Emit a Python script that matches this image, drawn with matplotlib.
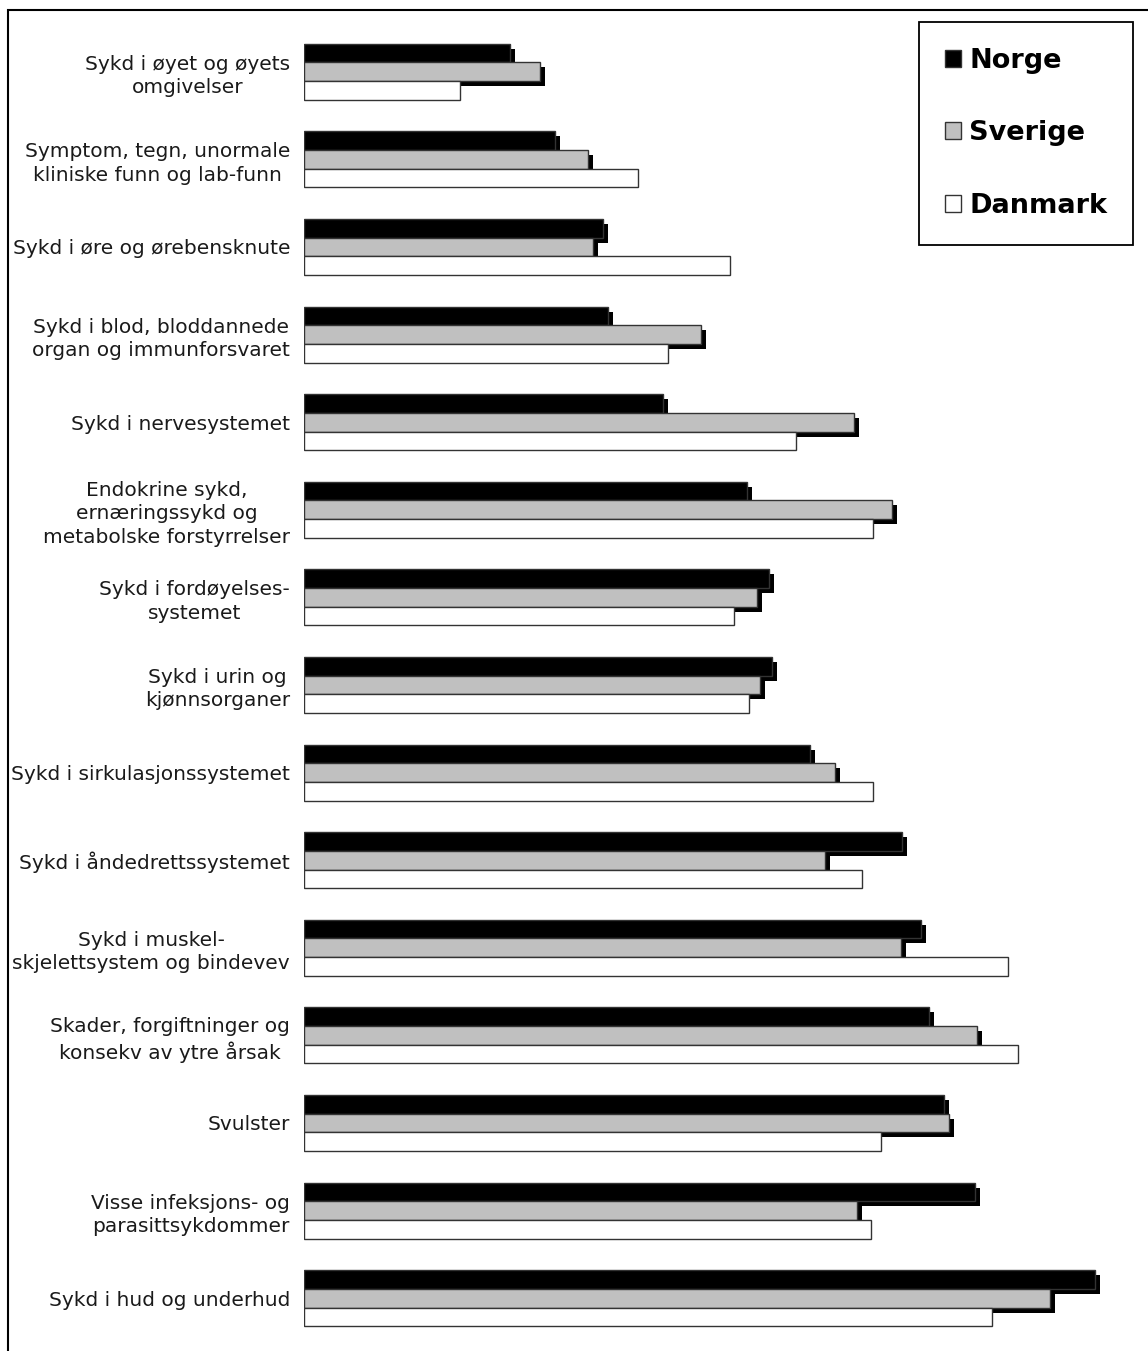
import matplotlib
matplotlib.use("Agg")
import matplotlib.pyplot as plt
import matplotlib.patheffects as pe
from matplotlib.patches import Patch, Rectangle
import numpy as np

categories = [
    "Sykd i øyet og øyets\nomgivelser",
    "Symptom, tegn, unormale\nkliniske funn og lab-funn",
    "Sykd i øre og ørebensknute",
    "Sykd i blod, bloddannede\norgan og immunforsvaret",
    "Sykd i nervesystemet",
    "Endokrine sykd,\nernæringssykd og\nmetabolske forstyrrelser",
    "Sykd i fordøyelses-\nsystemet",
    "Sykd i urin og\nkjønnsorganer",
    "Sykd i sirkulasjonssystemet",
    "Sykd i åndedrettssystemet",
    "Sykd i muskel-\nskjelettsystem og bindevev",
    "Skader, forgiftninger og\nkonsekv av ytre årsak",
    "Svulster",
    "Visse infeksjons- og\nparasittsykdommer",
    "Sykd i hud og underhud",
]

norge = [25.8, 31.4, 37.4, 38.0, 44.9, 55.4, 58.1, 58.5, 63.3, 74.8, 77.1, 78.1, 80.0, 83.9, 98.9]
sverige = [29.5, 35.5, 36.1, 49.6, 68.8, 73.5, 56.6, 57.0, 66.4, 65.1, 74.6, 84.1, 80.6, 69.1, 93.3]
danmark = [19.5, 41.8, 53.3, 45.5, 61.5, 71.1, 53.8, 55.6, 71.1, 69.8, 88.0, 89.3, 72.1, 70.9, 86.0]

series_names = ["Norge", "Sverige", "Danmark"]
series_colors = ["#000000", "#c0c0c0", "#ffffff"]

W, H = 1148, 1351
fig = plt.figure(figsize=(W / 100, H / 100), dpi=100)
fig.patch.set_facecolor("white")

ax = fig.add_axes([304 / W, 1 - 1342 / H, 1 - 304 / W, (1342 - 28) / H])

y = np.arange(len(categories))
bh = 0.213
shadow = [pe.SimplePatchShadow(offset=(3.6, -3.6), shadow_rgbFace="black", alpha=1.0), pe.Normal()]

for i, (vals, color) in enumerate(zip([norge, sverige, danmark], series_colors)):
    bars = ax.barh(y + (i - 1) * bh, vals, height=bh, color=color,
                   edgecolor="#333333", linewidth=1.0, zorder=2 + i)
    if i < 2:
        for b in bars:
            b.set_path_effects(shadow)

ax.set_ylim(len(categories) - 0.5, -0.5)
ax.set_xlim(0, (W - 304) / 8)
ax.set_yticks(y)
ax.set_yticklabels(categories, fontsize=14.5, family="DejaVu Sans", color="#1a1a1a",
                   linespacing=1.28)
for lbl in ax.get_yticklabels():
    lbl.set_multialignment("center")
ax.tick_params(axis="y", length=0, pad=10)
ax.set_xticks([])
for s in ax.spines.values():
    s.set_visible(False)
ax.patch.set_alpha(0)

handles = [Patch(facecolor=c, edgecolor="#333333", linewidth=1.0) for c in series_colors]
leg = fig.legend(handles, series_names, loc="upper right",
                 bbox_to_anchor=(1133 / W, 1 - 22 / H), bbox_transform=fig.transFigure,
                 prop={"family": "DejaVu Sans", "weight": "bold", "size": 19.5},
                 frameon=True, fancybox=False, edgecolor="black", framealpha=1,
                 handlelength=0.59, handleheight=0.59, handletextpad=0.3,
                 labelspacing=1.72, borderpad=0.95, borderaxespad=0)
leg.get_frame().set_linewidth(1.3)

# outer frame, open toward the right and bottom edges
fig.add_artist(Rectangle((8 / W, -0.1), 1.2, 1 - 10 / H + 0.1, transform=fig.transFigure,
                         fill=False, edgecolor="black", linewidth=1.5))

fig.savefig("out.png", dpi=100, facecolor="white")
